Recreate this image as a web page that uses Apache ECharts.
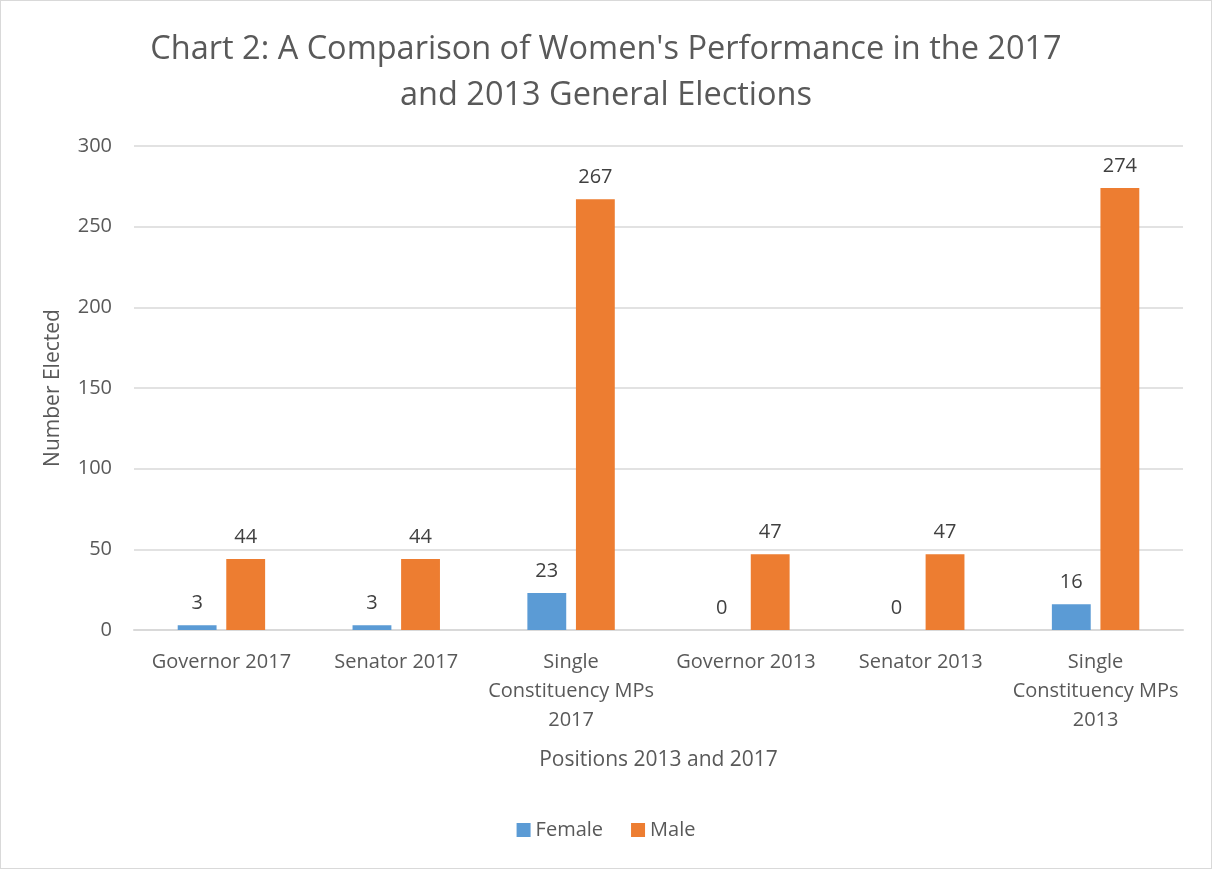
<!DOCTYPE html>
<html>
<head>
<meta charset="utf-8">
<style>
  html, body { margin: 0; padding: 0; background: #fff; }
  #chart { width: 1210px; height: 867px; border: 1px solid #d9d9d9; }
</style>
<script src="https://cdn.jsdelivr.net/npm/echarts@6/dist/echarts.min.js"></script>
</head>
<body>
<div id="chart"></div>
<script>
// Positions contested and numbers elected by gender
const categories = [
  'Governor 2017',
  'Senator 2017',
  'Single\nConstituency MPs\n2017',
  'Governor 2013',
  'Senator 2013',
  'Single\nConstituency MPs\n2013'
];
const femaleValues = [3, 3, 23, 0, 0, 16];
const maleValues = [44, 44, 267, 47, 47, 274];
const yTicks = { min: 0, max: 300, interval: 50 };

const font = '"Open Sans", "Liberation Sans", sans-serif';
const chart = echarts.init(document.getElementById('chart'), null, { renderer: 'canvas' });

const labelStyle = {
  show: true,
  position: 'top',
  distance: 12,
  color: '#404040',
  fontSize: 20,
  fontFamily: font
};

chart.setOption({
  animation: false,
  title: {
    text: "Chart 2: A Comparison of Women's Performance in the 2017\nand 2013 General Elections",
    left: 'center',
    top: 21,
    textStyle: {
      color: '#595959',
      fontSize: 32.5,
      fontWeight: 'normal',
      fontFamily: font,
      lineHeight: 46
    }
  },
  legend: {
    bottom: 23,
    left: 'center',
    itemWidth: 14,
    itemHeight: 14,
    itemGap: 28,
    icon: 'rect',
    textStyle: { color: '#595959', fontSize: 20, fontFamily: font }
  },
  grid: { left: 133, right: 28, top: 145, bottom: 238 },
  xAxis: {
    type: 'category',
    data: categories,
    name: 'Positions 2013 and 2017',
    nameLocation: 'middle',
    nameGap: 120,
    nameTextStyle: { color: '#595959', fontSize: 21, fontFamily: font },
    axisLine: { lineStyle: { color: '#d9d9d9', width: 2 } },
    axisTick: { show: false },
    axisLabel: {
      color: '#595959',
      fontSize: 20,
      fontFamily: font,
      lineHeight: 29,
      margin: 18,
      interval: 0
    }
  },
  yAxis: {
    type: 'value',
    min: yTicks.min,
    max: yTicks.max,
    interval: yTicks.interval,
    name: 'Number Elected',
    nameLocation: 'middle',
    nameGap: 70,
    nameRotate: 90,
    nameTextStyle: { color: '#595959', fontSize: 21, fontFamily: font },
    axisLine: { show: false },
    axisTick: { show: false },
    axisLabel: { color: '#595959', fontSize: 20, fontFamily: font, margin: 22 },
    splitLine: { lineStyle: { color: '#d9d9d9', width: 1.5 } }
  },
  series: [
    {
      name: 'Female',
      type: 'bar',
      data: femaleValues,
      itemStyle: { color: '#5b9bd5' },
      barGap: '25%',
      barCategoryGap: '50%',
      label: labelStyle
    },
    {
      name: 'Male',
      type: 'bar',
      data: maleValues,
      itemStyle: { color: '#ed7d31' },
      barGap: '25%',
      barCategoryGap: '50%',
      label: labelStyle
    }
  ]
});
</script>
</body>
</html>
